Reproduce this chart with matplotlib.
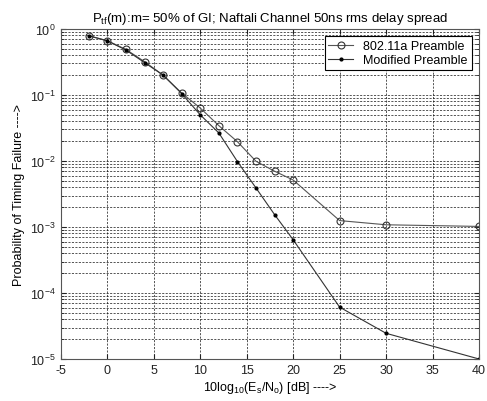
import matplotlib.pyplot as plt
from matplotlib.ticker import LogLocator, NullFormatter

plt.rcParams['font.family'] = ['Liberation Sans', 'DejaVu Sans']
plt.rcParams['axes.unicode_minus'] = False
plt.rcParams['mathtext.fontset'] = 'custom'
plt.rcParams['mathtext.rm'] = 'Liberation Sans'
plt.rcParams['mathtext.default'] = 'rm'

snr = [-2, 0, 2, 4, 6, 8, 10, 12, 14, 16, 18, 20, 25, 30, 40]
p_80211a = [0.79, 0.665, 0.49, 0.32, 0.20, 0.107, 0.0635, 0.0343, 0.0196,
            0.0099, 0.0070, 0.00515, 0.00125, 0.00108, 0.00102]
p_modified = [0.79, 0.66, 0.48, 0.31, 0.20, 0.105, 0.050, 0.0266, 0.0098,
              0.0039, 0.00154, 0.00064, 6.1e-5, 2.45e-5, 1.0e-5]

fig = plt.figure(figsize=(4.87, 4.02), dpi=100)
ax = fig.add_axes([0.125, 0.1045, 0.8586, 0.8209])

ax.semilogy(snr, p_80211a, '-o', color='#555555', mfc='none', mec='#333333',
            ms=5, lw=0.8, mew=0.8, label='802.11a Preamble')
ax.semilogy(snr, p_modified, '-', color='#333333', marker='.', mec='black',
            mfc='black', ms=4, lw=0.8, label='Modified Preamble')

ax.set_xlim(-5, 40)
ax.set_ylim(1e-5, 1)
ax.set_xticks(range(-5, 41, 5))
ax.yaxis.set_major_locator(LogLocator(base=10, numticks=10))
ax.yaxis.set_minor_locator(LogLocator(base=10, subs=range(2, 10), numticks=10))
ax.yaxis.set_minor_formatter(NullFormatter())

ax.grid(True, which='major', ls=(0, (3, 2)), color='#111111', lw=0.5)
ax.grid(True, which='minor', axis='y', ls=(0, (3, 2)), color='#111111', lw=0.5)

ax.tick_params(which='both', direction='in', top=True, right=True,
               labelsize=9, colors='#222222')
ax.tick_params(which='minor', length=2)
for s in ax.spines.values():
    s.set_color('#555555')

ax.set_title('P$_{tf}$(m):m= 50% of GI; Naftali Channel 50ns rms delay spread',
             fontsize=9.5, pad=6)
ax.set_xlabel('10log$_{10}$(E$_{s}$/N$_{o}$) [dB] ---->', fontsize=9, labelpad=2)
ax.set_ylabel('Probability of Timing Failure ---->', fontsize=9, labelpad=4)

leg = ax.legend(loc='upper right', fontsize=9, fancybox=False, framealpha=1,
                edgecolor='black', borderaxespad=0.6, handlelength=2,
                borderpad=0.3, labelspacing=0.15)
leg.get_frame().set_linewidth(0.8)

fig.savefig('out.png', dpi=100)
